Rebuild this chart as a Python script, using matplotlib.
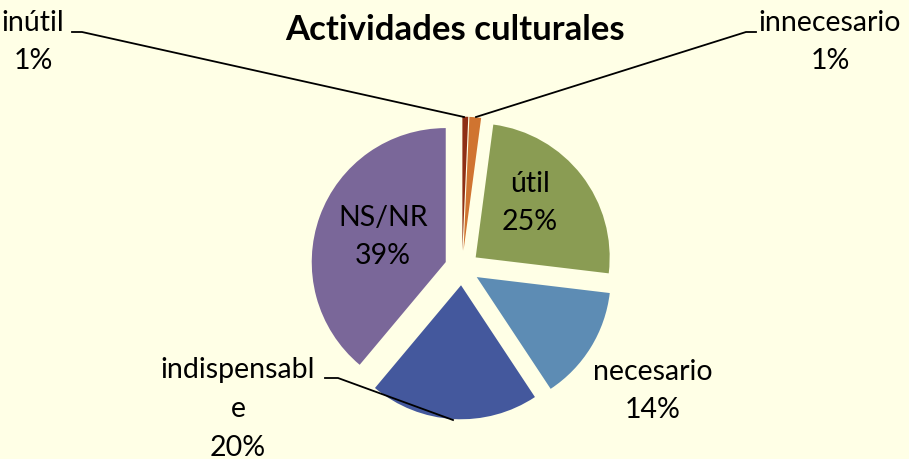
import matplotlib
matplotlib.use('Agg')
import matplotlib.pyplot as plt

# Actividades culturales -- share of answers
categories = ['inútil', 'innecesario', 'útil', 'necesario', 'indispensable', 'NS/NR']
values = [0.7, 1.4, 24.8, 13.8, 20.4, 38.9]
colors = ['#8E2F15', '#D07430', '#8A9C53', '#5D8CB4', '#44589D', '#7A6799']
title = 'Actividades culturales'

plt.rcParams['font.family'] = ['Lato', 'DejaVu Sans']

fig = plt.figure(figsize=(9.09, 4.59), dpi=100)
fig.patch.set_facecolor('#FFFFE6')
ax = fig.add_axes([0, 0, 1, 1])

H = 459
cx, cy, r = 462, H - 268, 134
# explode is in data units (pixels here)
ax.pie(values, colors=colors, startangle=90, counterclock=False,
       center=(cx, cy), radius=r, explode=[17.3] * len(values),
       wedgeprops=dict(linewidth=0), frame=True)
ax.set_xlim(0, 909)
ax.set_ylim(0, 459)
ax.axis('off')

ax.text(455, H - 30, title, ha='center', va='center',
        fontsize=25, fontweight='bold')

pct = ['{:.0f}%'.format(v) for v in values]
shown = [c if c != 'indispensable' else 'indispensabl\ne' for c in categories]

# label centres (pixel positions, y from top)
label_pos = [(33, 42), (830, 42), (530, 203), (653, 391), (238, 409), (383, 237)]
for name, p, (x, y) in zip(shown, pct, label_pos):
    ax.text(x, H - y, name + '\n' + p, ha='center', va='center',
            fontsize=20.5, linespacing=1.6)

# leader lines
lw = 1.3
ax.plot([72, 82, 464], [H - 32, H - 32, H - 117], color='black', lw=lw)
ax.plot([756, 746, 476], [H - 32, H - 32, H - 117], color='black', lw=lw)
ax.plot([325, 338, 453], [H - 378, H - 378, H - 420], color='black', lw=lw)

fig.savefig('out.png', dpi=100, facecolor=fig.get_facecolor())
